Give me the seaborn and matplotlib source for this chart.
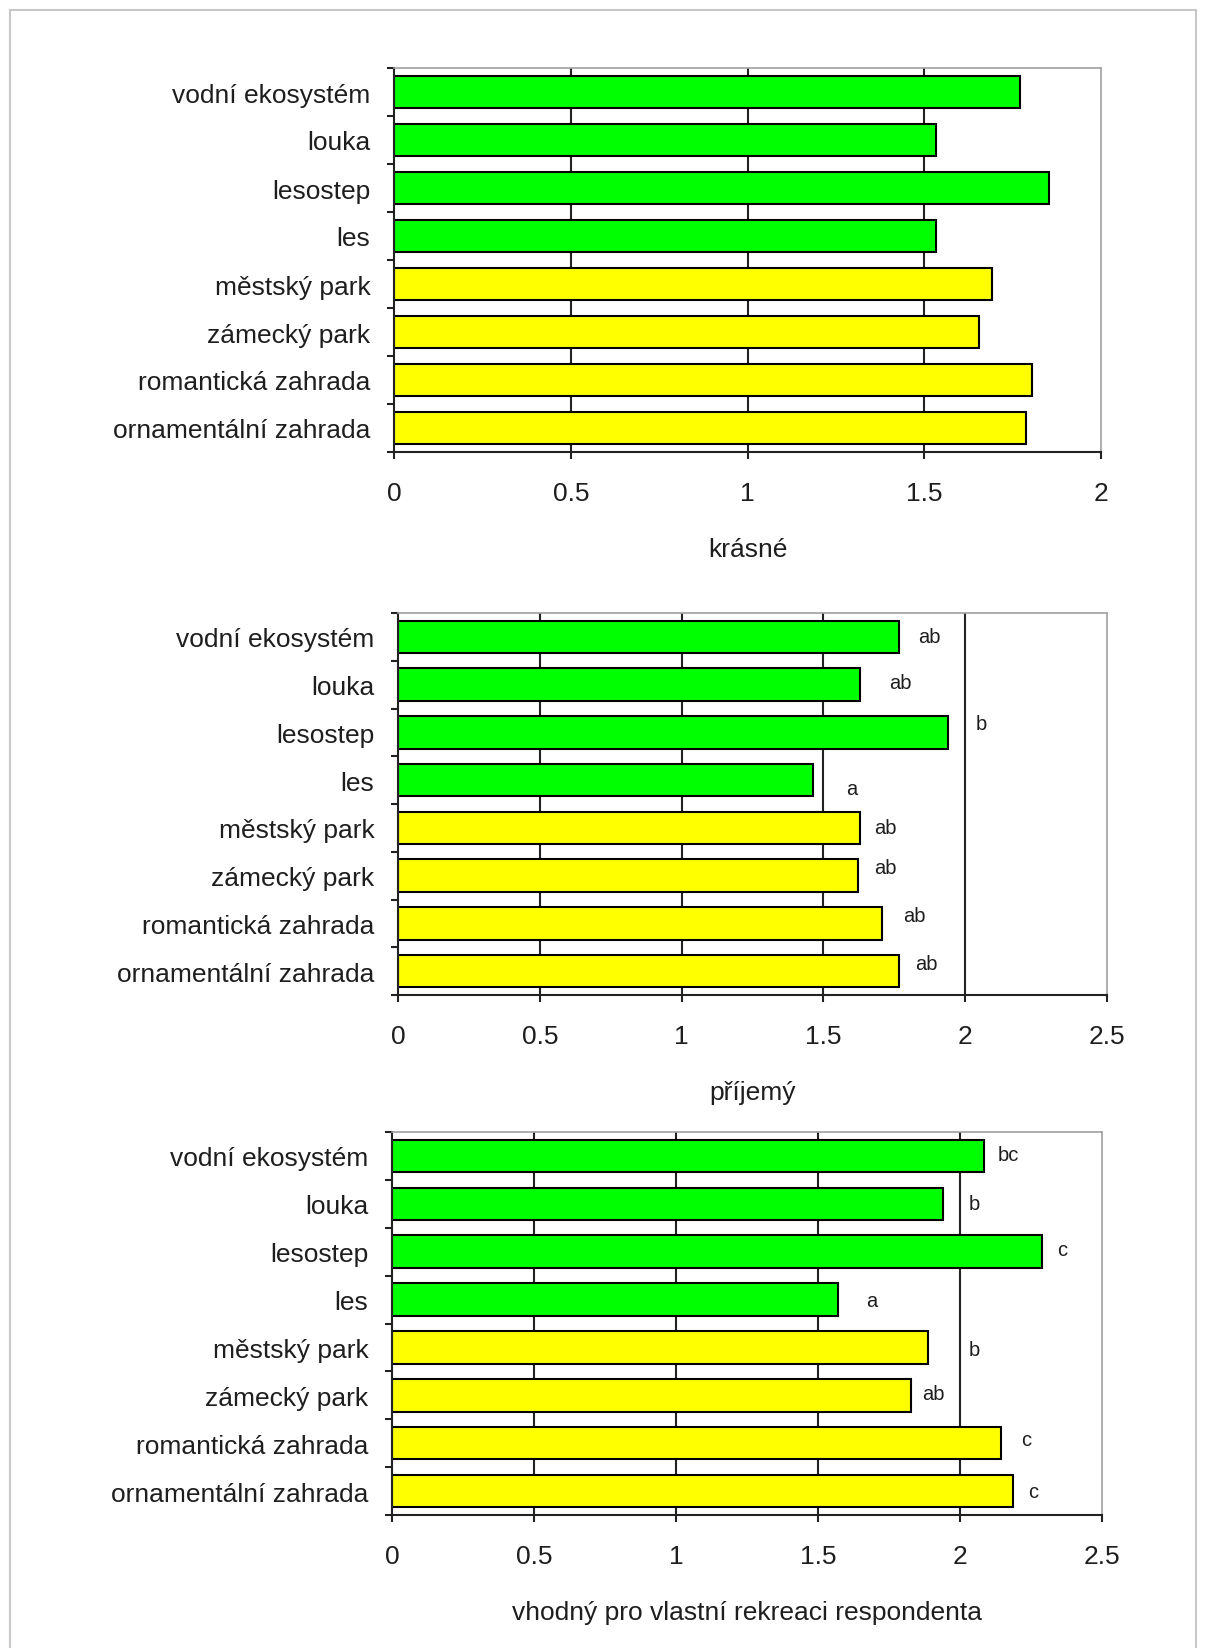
import matplotlib
matplotlib.use("Agg")
import matplotlib.pyplot as plt
import seaborn as sns
import pandas as pd
import numpy as np
from matplotlib.ticker import FixedLocator, FuncFormatter
from matplotlib.patches import Rectangle

sns.set_theme(style="white")
plt.rcParams['font.family'] = ['Liberation Sans', 'DejaVu Sans']

categories = ["vodní ekosystém", "louka", "lesostep", "les",
              "městský park", "zámecký park", "romantická zahrada", "ornamentální zahrada"]
bar_colors = ["#00FF00", "#00FF00", "#00FF00", "#00FF00",
              "#FFFF00", "#FFFF00", "#FFFF00", "#FFFF00"]

krasne = [1.77, 1.533, 1.853, 1.533, 1.693, 1.655, 1.805, 1.789]
prijemny = [1.768, 1.628, 1.938, 1.465, 1.628, 1.622, 1.707, 1.768]
vhodny = [2.083, 1.939, 2.289, 1.570, 1.889, 1.829, 2.143, 2.186]

prijemny_letters = ["ab", "ab", "b", "a", "ab", "ab", "ab", "ab"]
prijemny_letter_x = [1.835, 1.730, 2.038, 1.581, 1.68, 1.68, 1.78, 1.822]
prijemny_letter_dy = [0.0, -0.04, -0.19, 0.17, 0.0, -0.17, -0.17, -0.15]

vhodny_letters = ["bc", "b", "c", "a", "b", "ab", "c", "c"]
vhodny_letter_x = [2.131, 2.032, 2.342, 1.671, 2.032, 1.865, 2.214, 2.239]
vhodny_letter_dy = [-0.02, -0.01, -0.05, 0.01, 0.05, -0.03, -0.07, 0.01]

xlabels = ["krásné", "příjemý", "vhodný pro vlastní rekreaci respondenta"]
xmax = [2.0, 2.5, 2.5]

W, H = 1207, 1649
fig = plt.figure(figsize=(W / 100, H / 100), dpi=100)

# outer light frame
fig.patches.append(Rectangle((10 / W, -0.01), (1196 - 10) / W, (H - 11) / H + 0.01,
                             transform=fig.transFigure, fill=False,
                             edgecolor="#c8c8c8", linewidth=1.5))

axes_px = [(394, 69, 1101, 453), (398, 614, 1107, 996), (392, 1133, 1102, 1516)]
datasets = [krasne, prijemny, vhodny]
letters = [None, (prijemny_letters, prijemny_letter_x, prijemny_letter_dy),
           (vhodny_letters, vhodny_letter_x, vhodny_letter_dy)]
txtcol = "#1e1e1e"
fs = 19

for k, ((l, t, r, b), vals) in enumerate(zip(axes_px, datasets)):
    ax = fig.add_axes([l / W, 1 - b / H, (r - l) / W, (b - t) / H])
    df = pd.DataFrame({"cat": categories, "val": vals})
    sns.barplot(data=df, y="cat", x="val", hue="cat", palette=bar_colors,
                legend=False, orient="h", width=0.68, ax=ax,
                edgecolor="black", linewidth=1.5, saturation=1)
    ax.set_xlim(0, xmax[k])
    ax.set_ylim(7.5, -0.5)
    ticks = np.arange(0, xmax[k] + 0.01, 0.5)
    ax.xaxis.set_major_locator(FixedLocator(ticks))
    ax.xaxis.set_major_formatter(FuncFormatter(lambda v, p: "%g" % v))
    ax.grid(False)
    for tv in ticks[1:-1]:
        ax.axvline(tv, color="#222222", linewidth=1.5, zorder=0)
    ax.set_axisbelow(True)
    # y ticks: labels at centers, marks at boundaries
    ax.yaxis.set_minor_locator(FixedLocator(np.arange(-0.5, 8.0, 1.0)))
    ax.tick_params(axis="y", which="major", length=0, pad=17, labelsize=fs, labelcolor=txtcol)
    ax.tick_params(axis="y", which="minor", length=5, width=1.5, color="#222222", direction="out", left=True)
    ax.tick_params(axis="x", which="major", length=5, width=1.5, color="#222222", direction="out",
                   bottom=True, pad=16, labelsize=fs, labelcolor=txtcol)
    ax.set_ylabel("")
    ax.set_xlabel(xlabels[k], fontsize=fs, color=txtcol, labelpad=23)
    for side in ["left", "bottom"]:
        ax.spines[side].set_color("#222222")
        ax.spines[side].set_linewidth(1.5)
    for side in ["top", "right"]:
        ax.spines[side].set_color("#a0a0a0")
        ax.spines[side].set_linewidth(1.2)
    if letters[k] is not None:
        labs, lx, ldy = letters[k]
        for i, (s, x, dy) in enumerate(zip(labs, lx, ldy)):
            ax.text(x, i + dy, s, ha="left", va="center", fontsize=14.5, color=txtcol)

fig.savefig("out.png", dpi=100)
